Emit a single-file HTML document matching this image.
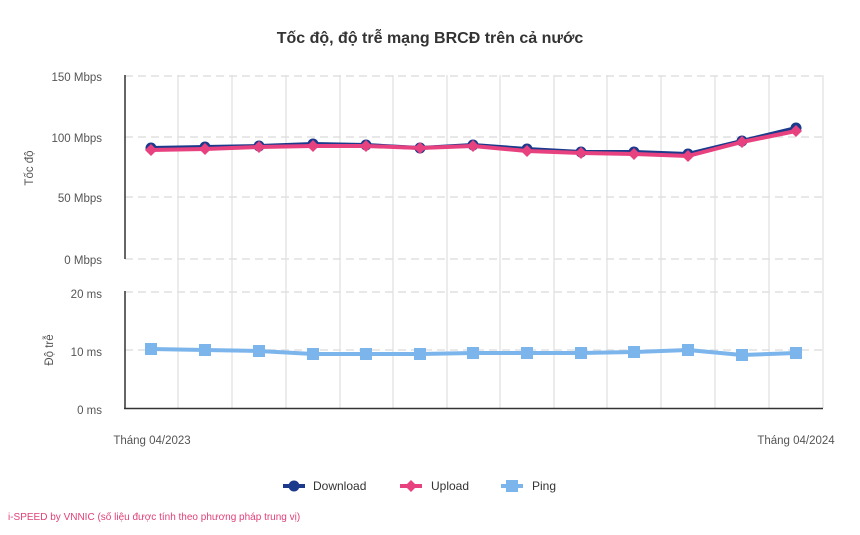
<!DOCTYPE html>
<html><head><meta charset="utf-8"><style>
html,body{margin:0;padding:0;background:#fff;}
svg text{font-family:"Liberation Sans",sans-serif;}
</style></head><body>
<svg width="860" height="530" viewBox="0 0 860 530" xmlns="http://www.w3.org/2000/svg">
<text x="430" y="43" text-anchor="middle" font-size="16" font-weight="bold" fill="#333">Tốc độ, độ trễ mạng BRCĐ trên cả nước</text>
<g stroke="#e6e6e6" stroke-width="1.5">
<line x1="178" y1="75" x2="178" y2="408"/><line x1="232" y1="75" x2="232" y2="408"/><line x1="286" y1="75" x2="286" y2="408"/><line x1="340" y1="75" x2="340" y2="408"/><line x1="393" y1="75" x2="393" y2="408"/><line x1="447" y1="75" x2="447" y2="408"/><line x1="500" y1="75" x2="500" y2="408"/><line x1="554" y1="75" x2="554" y2="408"/><line x1="607" y1="75" x2="607" y2="408"/><line x1="661" y1="75" x2="661" y2="408"/><line x1="715" y1="75" x2="715" y2="408"/><line x1="769" y1="75" x2="769" y2="408"/><line x1="823" y1="75" x2="823" y2="408"/>
</g>
<g stroke="#e0e0e0" stroke-width="1.5" stroke-dasharray="8,5">
<line x1="125" y1="76" x2="823" y2="76"/><line x1="125" y1="137" x2="823" y2="137"/><line x1="125" y1="197" x2="823" y2="197"/><line x1="125" y1="259" x2="823" y2="259"/><line x1="125" y1="292" x2="823" y2="292"/><line x1="125" y1="350" x2="823" y2="350"/>
</g>
<g stroke="#333" stroke-width="1.5">
<line x1="125" y1="75" x2="125" y2="259"/><line x1="125" y1="291" x2="125" y2="409"/><line x1="124" y1="408.5" x2="823" y2="408.5"/>
</g>
<g font-size="11.5" fill="#555" text-anchor="end">
<text x="102" y="81">150 Mbps</text><text x="102" y="142">100 Mbps</text><text x="102" y="202">50 Mbps</text><text x="102" y="264">0 Mbps</text>
<text x="102" y="298">20 ms</text><text x="102" y="356">10 ms</text><text x="102" y="414">0 ms</text>
</g>
<text transform="translate(33,168) rotate(-90)" text-anchor="middle" font-size="11.5" fill="#555">Tốc độ</text>
<text transform="translate(53,350) rotate(-90)" text-anchor="middle" font-size="11.5" fill="#555">Độ trễ</text>
<text x="152" y="444" text-anchor="middle" font-size="11.5" fill="#555">Tháng 04/2023</text>
<text x="796" y="444" text-anchor="middle" font-size="11.5" fill="#555">Tháng 04/2024</text>
<polyline fill="none" stroke="#1b3a8c" stroke-width="4" stroke-linejoin="round" points="151,148 205,147 259,146 313,144 366,145 420,148 473,145 527,149 581,152 634,152 688,154 742,141 796,128"/>
<g fill="#1b3a8c">
<circle cx="151" cy="148" r="5.5"/><circle cx="205" cy="147" r="5.5"/><circle cx="259" cy="146" r="5.5"/><circle cx="313" cy="144" r="5.5"/><circle cx="366" cy="145" r="5.5"/><circle cx="420" cy="148" r="5.5"/><circle cx="473" cy="145" r="5.5"/><circle cx="527" cy="149" r="5.5"/><circle cx="581" cy="152" r="5.5"/><circle cx="634" cy="152" r="5.5"/><circle cx="688" cy="154" r="5.5"/><circle cx="742" cy="141" r="5.5"/><circle cx="796" cy="128" r="5.5"/>
</g>
<polyline fill="none" stroke="#e8417f" stroke-width="4" stroke-linejoin="round" points="151,150 205,149 259,147 313,146 366,146 420,148 473,146 527,151 581,153 634,154 688,156 742,142 796,131"/>
<g fill="#e8417f">
<path d="M151 144l6 6-6 6-6-6z"/><path d="M205 143l6 6-6 6-6-6z"/><path d="M259 141l6 6-6 6-6-6z"/><path d="M313 140l6 6-6 6-6-6z"/><path d="M366 140l6 6-6 6-6-6z"/><path d="M420 142l6 6-6 6-6-6z"/><path d="M473 140l6 6-6 6-6-6z"/><path d="M527 145l6 6-6 6-6-6z"/><path d="M581 147l6 6-6 6-6-6z"/><path d="M634 148l6 6-6 6-6-6z"/><path d="M688 150l6 6-6 6-6-6z"/><path d="M742 136l6 6-6 6-6-6z"/><path d="M796 125l6 6-6 6-6-6z"/>
</g>
<polyline fill="none" stroke="#7cb5ec" stroke-width="4" stroke-linejoin="round" points="151,349 205,350 259,351 313,354 366,354 420,354 473,353 527,353 581,353 634,352 688,350 742,355 796,353"/>
<g fill="#7cb5ec">
<rect x="145" y="343" width="12" height="12"/><rect x="199" y="344" width="12" height="12"/><rect x="253" y="345" width="12" height="12"/><rect x="307" y="348" width="12" height="12"/><rect x="360" y="348" width="12" height="12"/><rect x="414" y="348" width="12" height="12"/><rect x="467" y="347" width="12" height="12"/><rect x="521" y="347" width="12" height="12"/><rect x="575" y="347" width="12" height="12"/><rect x="628" y="346" width="12" height="12"/><rect x="682" y="344" width="12" height="12"/><rect x="736" y="349" width="12" height="12"/><rect x="790" y="347" width="12" height="12"/>
</g>
<g font-size="12" fill="#333">
<line x1="283" y1="486" x2="305" y2="486" stroke="#1b3a8c" stroke-width="4"/><circle cx="294" cy="486" r="5.5" fill="#1b3a8c"/><text x="313" y="490">Download</text>
<line x1="400" y1="486" x2="422" y2="486" stroke="#e8417f" stroke-width="4"/><path d="M411 480l6 6-6 6-6-6z" fill="#e8417f"/><text x="431" y="490">Upload</text>
<line x1="501" y1="486" x2="523" y2="486" stroke="#7cb5ec" stroke-width="4"/><rect x="506" y="480" width="12" height="12" fill="#7cb5ec"/><text x="532" y="490">Ping</text>
</g>
<text x="8" y="520" font-size="10" fill="#e0407a">i-SPEED by VNNIC (số liệu được tính theo phương pháp trung vị)</text>
</svg>
</body></html>
